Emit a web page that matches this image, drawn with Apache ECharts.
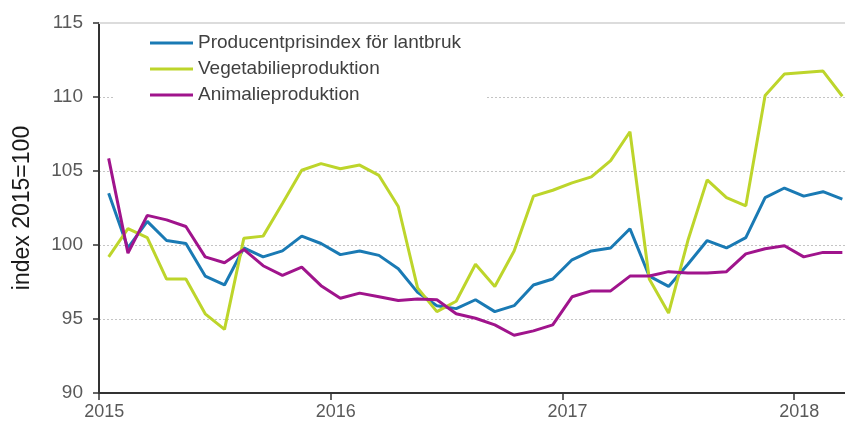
<!DOCTYPE html>
<html>
<head>
<meta charset="utf-8">
<script src="https://cdn.jsdelivr.net/npm/echarts@6/dist/echarts.min.js"></script>
<style>
  html, body { margin: 0; padding: 0; background: #fff; }
  #chart { width: 845px; height: 427px; }
</style>
</head>
<body>
<div id="chart"></div>
<script>
// monthly, Jan 2015 - Mar 2018
const months = [
  '2015M01', '2015M02', '2015M03', '2015M04', '2015M05', '2015M06', '2015M07', '2015M08', '2015M09', '2015M10', '2015M11', '2015M12',
  '2016M01', '2016M02', '2016M03', '2016M04', '2016M05', '2016M06', '2016M07', '2016M08', '2016M09', '2016M10', '2016M11', '2016M12',
  '2017M01', '2017M02', '2017M03', '2017M04', '2017M05', '2017M06', '2017M07', '2017M08', '2017M09', '2017M10', '2017M11', '2017M12',
  '2018M01', '2018M02', '2018M03'
]

const producentpris = [
  103.5, 99.8, 101.6, 100.3, 100.1, 97.9, 97.3, 99.8, 99.2, 99.6, 100.6, 100.1,
  99.35, 99.6, 99.3, 98.4, 96.8, 95.9, 95.7, 96.3, 95.5, 95.9, 97.3, 97.7,
  99.0, 99.6, 99.8, 101.1, 97.9, 97.2, 98.7, 100.3, 99.8, 100.5, 103.2, 103.85,
  103.3, 103.6, 103.1
]

const vegetabilie = [
  99.2, 101.1, 100.5, 97.7, 97.7, 95.35, 94.3, 100.45, 100.6, 102.8, 105.05, 105.5,
  105.15, 105.4, 104.7, 102.6, 97.1, 95.5, 96.2, 98.7, 97.2, 99.6, 103.3, 103.7,
  104.2, 104.6, 105.7, 107.65, 97.7, 95.4, 100.3, 104.4, 103.2, 102.65, 110.1, 111.55,
  111.65, 111.75, 110.05
]

const animalie = [
  105.85, 99.45, 102.0, 101.7, 101.25, 99.2, 98.8, 99.7, 98.6, 97.95, 98.5, 97.25,
  96.4, 96.75, 96.5, 96.25, 96.35, 96.3, 95.35, 95.05, 94.6, 93.9, 94.2, 94.6,
  96.5, 96.9, 96.9, 97.9, 97.9, 98.2, 98.1, 98.1, 98.2, 99.4, 99.75, 99.95,
  99.2, 99.5, 99.5
]

const FONT = '"Liberation Sans", Arial, sans-serif'
const isJan = (i) => i % 12 === 0

const chart = echarts.init(document.getElementById('chart'))

function line(name, data, color) {
  return {
    name: name,
    type: 'line',
    data: data,
    symbol: 'none',
    animation: false,
    itemStyle: { color: color },
    lineStyle: { color: color, width: 3 }
  }
}

chart.setOption({
  backgroundColor: '#fff',
  textStyle: { fontFamily: FONT },
  grid: { left: 99, right: -7, top: 23, bottom: 34, outerBoundsMode: 'none', containLabel: false },
  legend: {
    orient: 'vertical',
    left: 115,
    top: 25,
    padding: [8, 25, 10, 35],
    backgroundColor: '#fff',
    itemWidth: 43,
    itemHeight: 20,
    itemGap: 6,
    icon: 'path://M0,0 L43,0 L43,3 L0,3 Z',
    textStyle: { fontFamily: FONT, fontSize: 19, color: '#404040', lineHeight: 20 },
    data: ['Producentprisindex för lantbruk', 'Vegetabilieproduktion', 'Animalieproduktion']
  },
  xAxis: [{
    type: 'category',
    data: months,
    boundaryGap: true,
    axisLine: { lineStyle: { color: '#333', width: 2 } },
    axisTick: { show: true, interval: isJan, length: 7, lineStyle: { color: '#333', width: 1.5 } },
    axisLabel: {
      interval: isJan,
      formatter: (v) => v.slice(0, 4),
      fontFamily: FONT,
      fontSize: 18,
      color: '#595959',
      margin: 10,
      padding: [0, 9, 0, 0]
    },
    splitLine: { show: false }
  }, {
    type: 'category',
    data: months,
    position: 'top',
    axisLine: { lineStyle: { color: '#dcdcdc', width: 2 } },
    axisTick: { show: false },
    axisLabel: { show: false }
  }],
  yAxis: {
    type: 'value',
    min: 90,
    max: 115,
    interval: 5,
    name: 'index 2015=100',
    nameLocation: 'middle',
    nameRotate: 90,
    nameGap: 65,
    nameTextStyle: { fontFamily: FONT, fontSize: 23, color: '#1a1a1a' },
    axisLine: { show: true, lineStyle: { color: '#333', width: 2 } },
    axisTick: { show: true, length: 6, lineStyle: { color: '#333', width: 1.5 } },
    axisLabel: { fontFamily: FONT, fontSize: 19, color: '#595959', margin: 16 },
    splitLine: { lineStyle: { color: '#c4c4c4', type: [2, 2], width: 1 } }
  },
  series: [
    line('Producentprisindex för lantbruk', producentpris, '#1a7ab4'),
    line('Vegetabilieproduktion', vegetabilie, '#bdd52b'),
    line('Animalieproduktion', animalie, '#a0148c')
  ]
})
</script>
</body>
</html>
